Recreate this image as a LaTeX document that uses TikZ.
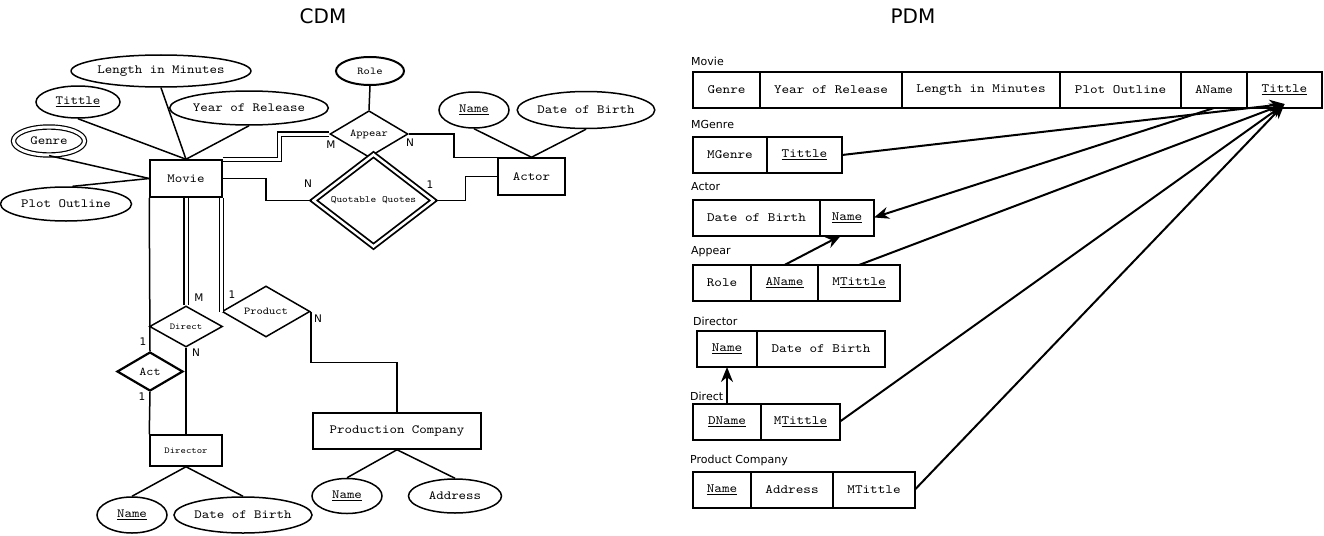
\documentclass[tikz,border=0pt]{standalone}
\usepackage{fontspec}
\setmonofont[FakeStretch=1.14]{lmmono10-regular.otf}
\setsansfont{DejaVu Sans}
\usetikzlibrary{shapes.geometric,arrows.meta,positioning}

\tikzset{
    attr/.style={ellipse,draw,line width=1.5pt,inner sep=0pt,font=\ttfamily\fontsize{12.5}{14}\selectfont},
    entity/.style={rectangle,draw,line width=1.5pt,inner sep=0pt,font=\ttfamily\fontsize{12.5}{14}\selectfont},
    rel/.style={diamond,draw,line width=1.5pt,inner sep=0pt,font=\ttfamily\fontsize{10.5}{12}\selectfont},
    card/.style={inner sep=0pt,font=\sffamily\fontsize{10.5}{12}\selectfont},
    dbl/.style={double,double distance=3pt,line width=1.2pt},
    cell/.style={rectangle,draw,line width=2pt,inner sep=0pt,outer sep=0pt,minimum height=36pt,font=\ttfamily\fontsize{12.7}{14}\selectfont},
    tname/.style={anchor=west,inner sep=0pt,font=\sffamily\fontsize{11}{13}\selectfont},
    fk/.style={line width=2pt,-{Stealth[length=15pt,width=12pt]}}
}

\begin{document}
\begin{tikzpicture}[x=1pt,y=-1pt]
    \useasboundingbox (0,0) rectangle (1324,535);

    \node[font=\sffamily\fontsize{20}{24}\selectfont] (cdm) at (323,16) {CDM};
    \node[font=\sffamily\fontsize{20}{24}\selectfont] (pdm) at (913,16) {PDM};

    % CDM
    \begin{scope}[every node/.style={attr}]
        \node[minimum width=170pt,minimum height=32pt] (mvLength) at (161,71) {Length in Minutes};
        \node[minimum width=84pt,minimum height=32pt] (mvTittle) at (78,102) {\underline{Tittle}};
        \node[minimum width=152pt,minimum height=34pt] (mvYear) at (249,108) {Year of Release};
        \node[double,double distance=3pt,line width=1.2pt,minimum width=71pt,minimum height=28pt] (mvGenre) at (49,141) {Genre};
        \node[minimum width=131pt,minimum height=34pt] (mvPlot) at (66,204) {Plot Outline};
        \node[line width=2pt,minimum width=68pt,minimum height=28pt,font=\ttfamily\fontsize{10.5}{12}\selectfont] (apRole) at (370,71) {Role};
        \node[minimum width=70pt,minimum height=36pt] (acName) at (474,110) {\underline{Name}};
        \node[minimum width=127pt,minimum height=37pt] (acBirth) at (586,110) {Date of Birth};
        \node[minimum width=70pt,minimum height=36pt] (drName) at (132,515) {\underline{Name}};
        \node[minimum width=138pt,minimum height=36pt] (drBirth) at (243,515) {Date of Birth};
        \node[minimum width=70pt,minimum height=35pt] (pcName) at (347,496) {\underline{Name}};
        \node[minimum width=93pt,minimum height=34pt] (pcAddress) at (455,496) {Address};
    \end{scope}

    \node[entity,minimum width=72pt,minimum height=37pt] (mv) at (186,178.5) {Movie};
    \node[entity,minimum width=67pt,minimum height=37pt] (ac) at (531.5,176.5) {Actor};
    \node[entity,minimum width=72pt,minimum height=31pt,font=\ttfamily\fontsize{9}{10}\selectfont] (dr) at (186,450.5) {Director};
    \node[entity,minimum width=168pt,minimum height=36pt] (pc) at (397,431) {Production Company};

    \node[rel,minimum width=78pt,minimum height=46pt] (ap) at (369,134) {Appear};
    \node[rel,double,double distance=2.5pt,line width=1.8pt,minimum width=120.5pt,minimum height=68.5pt,font=\ttfamily\fontsize{9.5}{11}\selectfont] (qq) at (373.5,200.5) {Quotable Quotes};
    \node[rel,minimum width=73pt,minimum height=41pt,font=\ttfamily\fontsize{9}{10}\selectfont] (di) at (186,326.5) {Direct};
    \node[rel,line width=2.2pt,minimum width=66pt,minimum height=39pt,font=\ttfamily\fontsize{11.8}{13}\selectfont] (act) at (150,371.5) {Act};
    \node[rel,minimum width=88pt,minimum height=51pt] (pr) at (266,311.5) {Product};

    \begin{scope}[line width=1.5pt]
        \foreach \a in {mvLength,mvTittle,mvYear} {\draw (\a.south)--(mv.north);}
        \draw (mvGenre.south)--(mv.west);
        \draw (mvPlot.70)--(mv.west);
        \draw (apRole.south)--(ap.north);
        \foreach \a in {acName,acBirth} {\draw (\a.south)--(ac.north);}
        \foreach \a in {drName,drBirth} {\draw (dr.south)--(\a.north);}
        \foreach \a in {pcName,pcAddress} {\draw (pc.south)--(\a.north);}

        \draw[dbl] (mv.north east) -- ++(57,0) |- (ap.west);
        \draw (ap.east) -- ++(45,0) |- (ac.north west);
        \draw (mv.east) -- ++(43,0) |- (qq.west);
        \draw (qq.east) -- ++(31,0) |- (ac.west);
        \draw[dbl] (mv.south) -- (di.north);
        \draw (di.south) -- (dr.north);
        \draw (mv.south west) -- (act.north);
        \draw (act.south) -- (dr.north west);
        \draw[dbl] (pr.west |- mv.south) -- (pr.west);
        \draw (pr.east) -- ++(0,51) -| (pc.north);
    \end{scope}

    \node[card] (apM) at (331,145) {M};
    \node[card] (apN) at (410,143) {N};
    \node[card] (qqN) at (308,184) {N};
    \node[card] (qq1) at (430,185) {1};
    \node[card] (diM) at (199,298) {M};
    \node[card] (diN) at (196,353) {N};
    \node[card] (act1) at (143,342) {1};
    \node[card] (act2) at (142,397) {1};
    \node[card] (pr1) at (232,295) {1};
    \node[card] (prN) at (318,319) {N};

    % PDM
    \node[tname] (tMovie) at (691,61) {Movie};
    \node[cell,minimum width=67pt,anchor=west] (mGenre) at (693,90) {Genre};
    \node[cell,minimum width=142pt,right=0pt of mGenre] (mYear) {Year of Release};
    \node[cell,minimum width=158pt,right=0pt of mYear] (mLength) {Length in Minutes};
    \node[cell,minimum width=121pt,right=0pt of mLength] (mPlot) {Plot Outline};
    \node[cell,minimum width=66pt,right=0pt of mPlot] (mAName) {AName};
    \node[cell,minimum width=75pt,right=0pt of mAName] (mTittle) {\underline{Tittle}};

    \node[tname] (tMGenre) at (691,124) {MGenre};
    \node[cell,minimum width=74pt,anchor=west] (gGenre) at (693,155) {MGenre};
    \node[cell,minimum width=75pt,right=0pt of gGenre] (gTittle) {\underline{Tittle}};

    \node[tname] (tActor) at (691,187) {Actor};
    \node[cell,minimum width=127pt,anchor=west] (aBirth) at (693,217.5) {Date of Birth};
    \node[cell,minimum width=54pt,right=0pt of aBirth] (aName) {\underline{Name}};

    \node[tname] (tAppear) at (691,252) {Appear};
    \node[cell,minimum width=58pt,anchor=west] (pRole) at (693,283) {Role};
    \node[cell,minimum width=67pt,right=0pt of pRole] (pAName) {\underline{AName}};
    \node[cell,minimum width=82pt,right=0pt of pAName] (pMTittle) {M\underline{Tittle}};

    \node[tname] (tDirector) at (693,321) {Director};
    \node[cell,minimum width=60pt,anchor=west] (rName) at (697,349) {\underline{Name}};
    \node[cell,minimum width=128pt,right=0pt of rName] (rBirth) {Date of Birth};

    \node[tname] (tDirect) at (690,396) {Direct};
    \node[cell,minimum width=68pt,anchor=west] (dDName) at (693,421.5) {\underline{DName}};
    \node[cell,minimum width=79pt,right=0pt of dDName] (dMTittle) {M\underline{Tittle}};

    \node[tname] (tProduct) at (690,460) {Product Company};
    \node[cell,minimum width=58pt,anchor=west] (cName) at (693,489.5) {\underline{Name}};
    \node[cell,minimum width=82pt,right=0pt of cName] (cAddress) {Address};
    \node[cell,minimum width=82pt,right=0pt of cAddress] (cMTittle) {MTittle};

    \coordinate (tip) at ([yshift=4pt]mTittle.south);
    \begin{scope}[fk]
        \draw (gTittle.east) -- (tip);
        \draw (pMTittle.north) -- (tip);
        \draw (dMTittle.east) -- (tip);
        \draw (cMTittle.east) -- (tip);
        \draw (mAName.south) -- (aName.east);
        \draw (pAName.north) -- ([xshift=-6pt]aName.south);
        \draw (dDName.north) -- (rName.south);
    \end{scope}
\end{tikzpicture}
\end{document}
